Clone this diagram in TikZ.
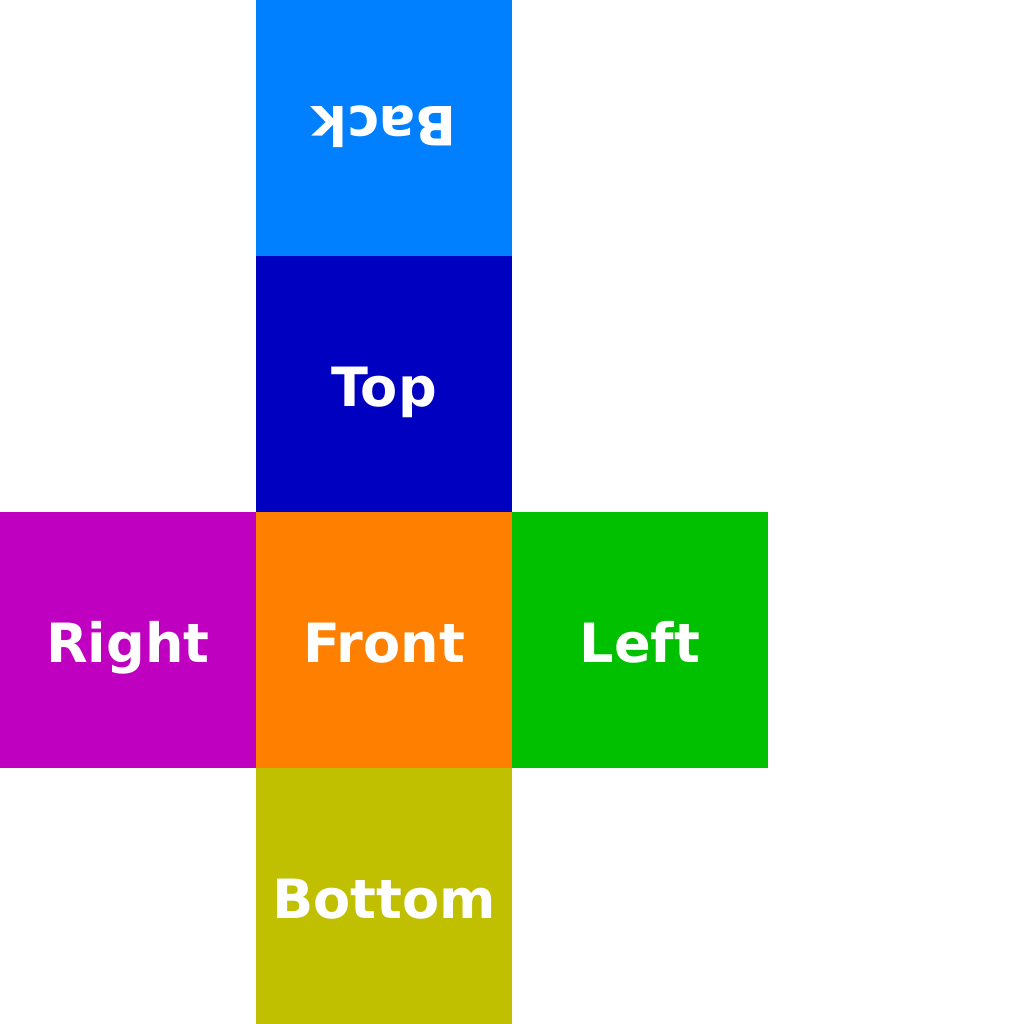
\documentclass[tikz,border=0pt]{standalone}
\usepackage{fontspec}
\usepackage{tikz}
\usetikzlibrary{positioning}
\newfontfamily\facefont{DejaVu Sans}
\definecolor{backC}{RGB}{0,127,255}
\definecolor{topC}{RGB}{0,0,192}
\definecolor{rightC}{RGB}{192,0,192}
\definecolor{frontC}{RGB}{255,127,0}
\definecolor{leftC}{RGB}{0,192,0}
\definecolor{bottomC}{RGB}{192,192,0}
\tikzset{
  face/.style={rectangle,minimum size=2.56cm,inner sep=0pt,outer sep=0pt,
    text=white,font=\facefont\bfseries\fontsize{15.4pt}{18pt}\selectfont,
    text height=0.44cm,text depth=0cm},
}
\begin{document}
\begin{tikzpicture}
\useasboundingbox (-3.84,-3.84) rectangle (6.40,6.40);
% unfolded cube net
\node[face,fill=frontC] (front) at (0,0) {Front};
\node[face,fill=topC,above=0pt of front] (top) {Top};
\node[face,fill=backC,above=0pt of top,anchor=north,rotate=180] (back) {Back};
\node[face,fill=rightC,left=0pt of front] (right) {Right};
\node[face,fill=leftC,right=0pt of front] (left) {Left};
\node[face,fill=bottomC,below=0pt of front] (bottom) {Bottom};
\end{tikzpicture}
\end{document}
